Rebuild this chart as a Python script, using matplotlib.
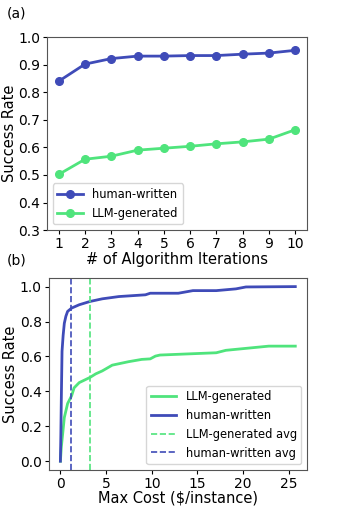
import numpy as np
import matplotlib
matplotlib.use("Agg")
import matplotlib.pyplot as plt

blue = "#3f4bb8"
green = "#4fe47c"

# (a) success rate vs. number of algorithm iterations
iters = [1, 2, 3, 4, 5, 6, 7, 8, 9, 10]
human_iter = [0.840, 0.902, 0.922, 0.931, 0.931, 0.933, 0.933, 0.938, 0.942, 0.952]
llm_iter = [0.502, 0.557, 0.568, 0.590, 0.597, 0.604, 0.613, 0.620, 0.630, 0.664]
yticks_a = [0.3, 0.4, 0.5, 0.6, 0.7, 0.8, 0.9, 1.0]

# (b) success rate vs. max cost
human_cost_x = [0, 0.05, 0.1, 0.18, 0.3, 0.43, 0.6, 0.79, 1.23, 2.06, 3.25, 4.58,
                6.4, 9.3, 9.83, 12.9, 14.5, 17.05, 19.2, 20.3, 25.7]
human_cost_y = [0, 0.15, 0.35, 0.63, 0.72, 0.79, 0.83, 0.858, 0.877, 0.896, 0.915, 0.93,
                0.943, 0.953, 0.962, 0.962, 0.977, 0.977, 0.987, 0.998, 1.0]
llm_cost_x = [0, 0.1, 0.25, 0.43, 0.79, 1.23, 1.5, 2.06, 3.25, 3.86, 4.58, 5.67,
              7.47, 8.9, 9.83, 10.4, 10.9, 17.05, 18.1, 22.8, 25.7]
llm_cost_y = [0, 0.08, 0.157, 0.25, 0.33, 0.375, 0.42, 0.45, 0.48, 0.5, 0.517, 0.55,
              0.57, 0.583, 0.586, 0.602, 0.608, 0.621, 0.635, 0.659, 0.659]
llm_avg = 3.25
human_avg = 1.16

fig = plt.figure(figsize=(3.45, 5.08), dpi=100)
ax1 = fig.add_axes([0.136, 0.547, 0.754, 0.38])
ax2 = fig.add_axes([0.141, 0.075, 0.749, 0.378])

ax1.plot(iters, human_iter, "-o", color=blue, lw=2, ms=5.5, label="human-written")
ax1.plot(iters, llm_iter, "-o", color=green, lw=2, ms=5.5, label="LLM-generated")
ax1.set_ylim(0.3, 1.0)
ax1.set_yticks(yticks_a)
ax1.set_xticks(iters)
ax1.set_xlabel("# of Algorithm Iterations", fontsize=10.5, labelpad=1)
ax1.set_ylabel("Success Rate", fontsize=10.5, labelpad=1)
ax1.legend(loc="lower left", fontsize=8.3, handlelength=2.2)

ax2.plot(llm_cost_x, llm_cost_y, color=green, lw=2, label="LLM-generated")
ax2.plot(human_cost_x, human_cost_y, color=blue, lw=2, label="human-written")
ax2.axvline(llm_avg, color=green, ls="--", lw=1.2, label="LLM-generated avg")
ax2.axvline(human_avg, color=blue, ls="--", lw=1.2, label="human-written avg")
ax2.set_xticks([0, 5, 10, 15, 20, 25])
ax2.set_xlabel("Max Cost ($/instance)", fontsize=10.5, labelpad=0)
ax2.set_ylabel("Success Rate", fontsize=10.5, labelpad=1)
ax2.legend(loc="lower right", fontsize=8.3, handlelength=2.2)

for ax in (ax1, ax2):
    ax.tick_params(labelsize=10, length=3, pad=2)
    for s in ax.spines.values():
        s.set_color("#555555")

fig.text(0.02, 0.965, "(a)", fontsize=10)
fig.text(0.02, 0.48, "(b)", fontsize=10)

fig.savefig("out.png", dpi=100)
